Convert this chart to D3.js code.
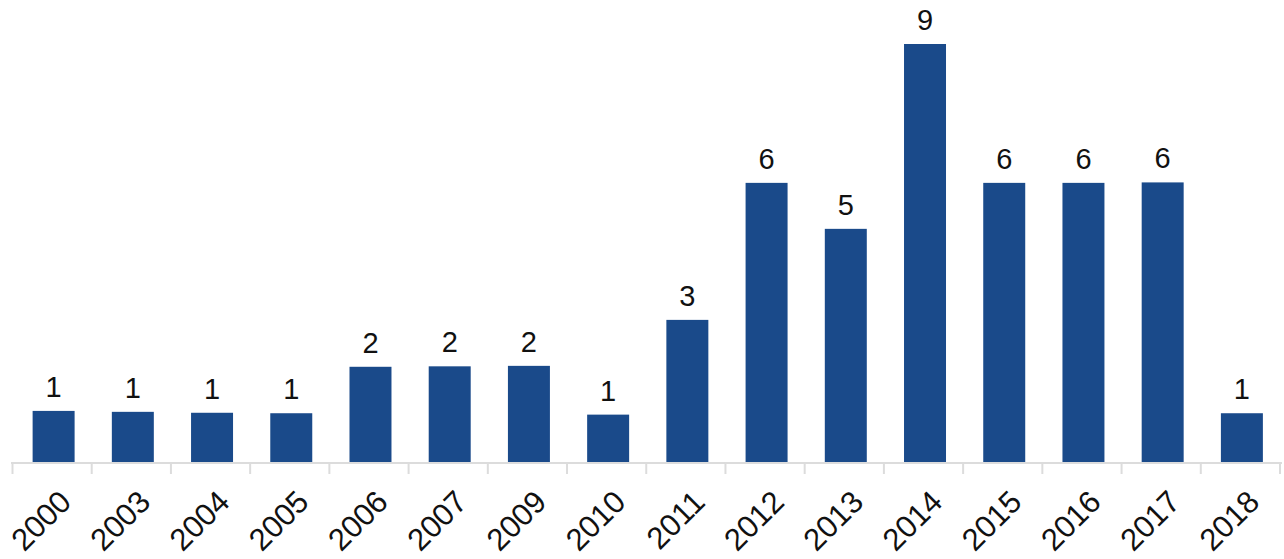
<!DOCTYPE html>
<html><head><meta charset="utf-8">
<script src="https://cdn.jsdelivr.net/npm/d3@7"></script>
<style>body{margin:0;background:#fff}svg{display:block}</style>
</head><body>
<svg id="c" width="1284" height="559"></svg>
<script>
const categories = ["2000","2003","2004","2005","2006","2007","2009","2010","2011","2012","2013","2014","2015","2016","2017","2018"];
const values = [1.10,1.08,1.06,1.05,2.05,2.06,2.07,1.02,3.06,6.01,5.02,9.0,6.01,6.01,6.02,1.05];
const labels = ["1","1","1","1","2","2","2","1","3","6","5","9","6","6","6","1"];

(function(){
const svg = d3.select("#c");
const mLeft = 12.5, mRight = 1280, base = 462, mTop = 44;
const x = d3.scaleBand().domain(categories).range([mLeft, mRight]).paddingInner(0.47).paddingOuter(0.235);
const y = d3.scaleLinear().domain([0, 9]).range([base, mTop]);
const font = "'Liberation Sans', Arial, Helvetica, sans-serif";
const shift = 1.5;

svg.selectAll("rect.bar").data(categories).join("rect")
  .attr("class","bar")
  .attr("x", d => x(d) + shift)
  .attr("width", x.bandwidth())
  .attr("y", (d,i) => y(values[i]))
  .attr("height", (d,i) => base - y(values[i]))
  .attr("fill", "#1a4a8a");

svg.selectAll("text.val").data(categories).join("text")
  .attr("class","val")
  .attr("x", d => x(d) + x.bandwidth()/2 + shift)
  .attr("y", (d,i) => y(values[i]) - 14)
  .attr("text-anchor","middle")
  .attr("font-family", font)
  .attr("font-size", 29)
  .attr("fill", "#111")
  .text((d,i) => labels[i]);

svg.append("line").attr("x1", 11).attr("x2", 1282).attr("y1", base+1).attr("y2", base+1)
  .attr("stroke", "#dcdcdc").attr("stroke-width", 2);
const tickPos = d3.range(categories.length + 1).map(i => mLeft + i * (mRight-mLeft)/categories.length);
svg.selectAll("line.tick").data(tickPos).join("line")
  .attr("class","tick")
  .attr("x1", d => d).attr("x2", d => d)
  .attr("y1", base).attr("y2", base + 12)
  .attr("stroke", "#dcdcdc").attr("stroke-width", 2);

svg.selectAll("text.cat").data(categories).join("text")
  .attr("class","cat")
  .attr("text-anchor","end")
  .attr("font-family", font)
  .attr("font-size", 31)
  .attr("fill", "#111")
  .attr("transform", d => `translate(${x(d) + x.bandwidth()/2 + 5},${base + 26}) rotate(-45)`)
  .attr("dy", "0.72em")
  .text(d => d);
})();
</script>
</body></html>
